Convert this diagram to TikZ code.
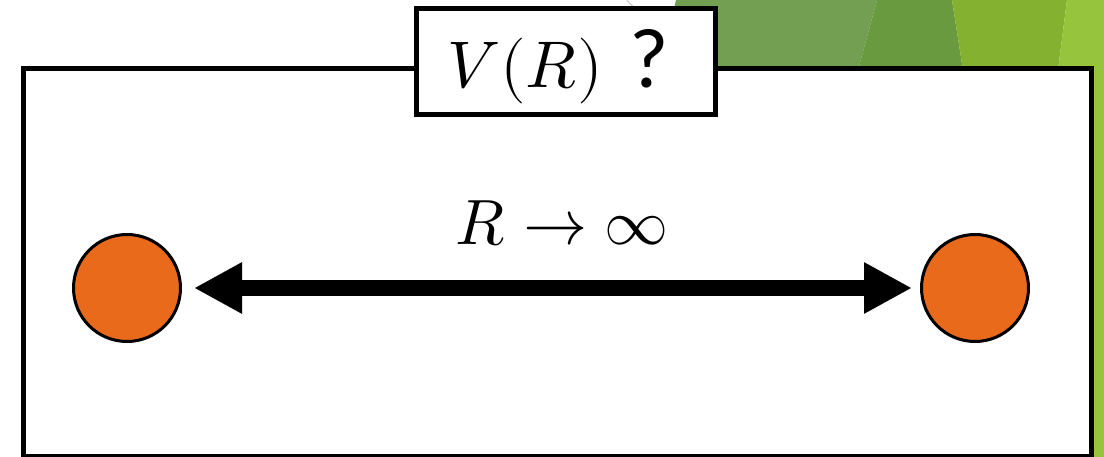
\documentclass[tikz,border=0pt]{standalone}
\usepackage{fontspec}
\usepackage{unicode-math}
\setmathfont{Latin Modern Math}
\newfontfamily\qfont{Carlito}
\usetikzlibrary{arrows.meta}
\definecolor{gA}{HTML}{739F52}
\definecolor{gB}{HTML}{6A9A40}
\definecolor{gC}{HTML}{84B230}
\definecolor{gD}{HTML}{96C43C}
\definecolor{ballc}{HTML}{E86A1A}
\tikzset{
  ball/.style={circle, draw=black, line width=3pt, fill=ballc, minimum size=107pt, inner sep=0pt},
  frame/.style={draw=black, line width=5pt, fill=white},
  bigarrow/.style={line width=16pt, {Triangle[length=48pt,width=48pt]}-{Triangle[length=48pt,width=48pt]}},
}
\begin{document}
\begin{tikzpicture}[x=1pt,y=-1pt]
\useasboundingbox (0,0) rectangle (1104,457);
% background decoration
\fill[gA] (676,0) -- (877,0) -- (858,70) -- (660,70) -- cycle;
\fill[gB] (877,0) -- (952,0) -- (963,70) -- (858,70) -- cycle;
\fill[gC] (952,0) -- (1067,0) -- (1058,70) -- (963,70) -- cycle;
\fill[gD] (1067,0) -- (1104,0) -- (1104,457) -- (1000,457) -- (1058,70) -- cycle;
\draw[gray!45, line width=1pt] (627,0) .. controls (629,3) .. (633,6);
% main frame
\draw[frame] (23,68.5) rectangle (1091,456);
% title
\node[draw=black, line width=5pt, fill=white, anchor=base west, inner xsep=31pt, inner ysep=0pt,
      text width=237pt, align=left, text height=79.5pt, text depth=27pt,
      font=\fontsize{66}{70}\selectfont] (title) at (414,88)
      {$V(R)$\hspace{26pt}{\qfont\fontsize{85}{90}\selectfont ?}};
% balls
\node[ball] (L) at (127,288) {};
\node[ball] (Rb) at (975,288) {};
\draw[bigarrow, shorten <=12pt, shorten >=8pt] (L) -- (Rb);
% label
\node[anchor=base, font=\fontsize{64}{70}\selectfont, inner sep=0pt] (lab) at (562,245) {$R\rightarrow\infty$};
\end{tikzpicture}
\end{document}
